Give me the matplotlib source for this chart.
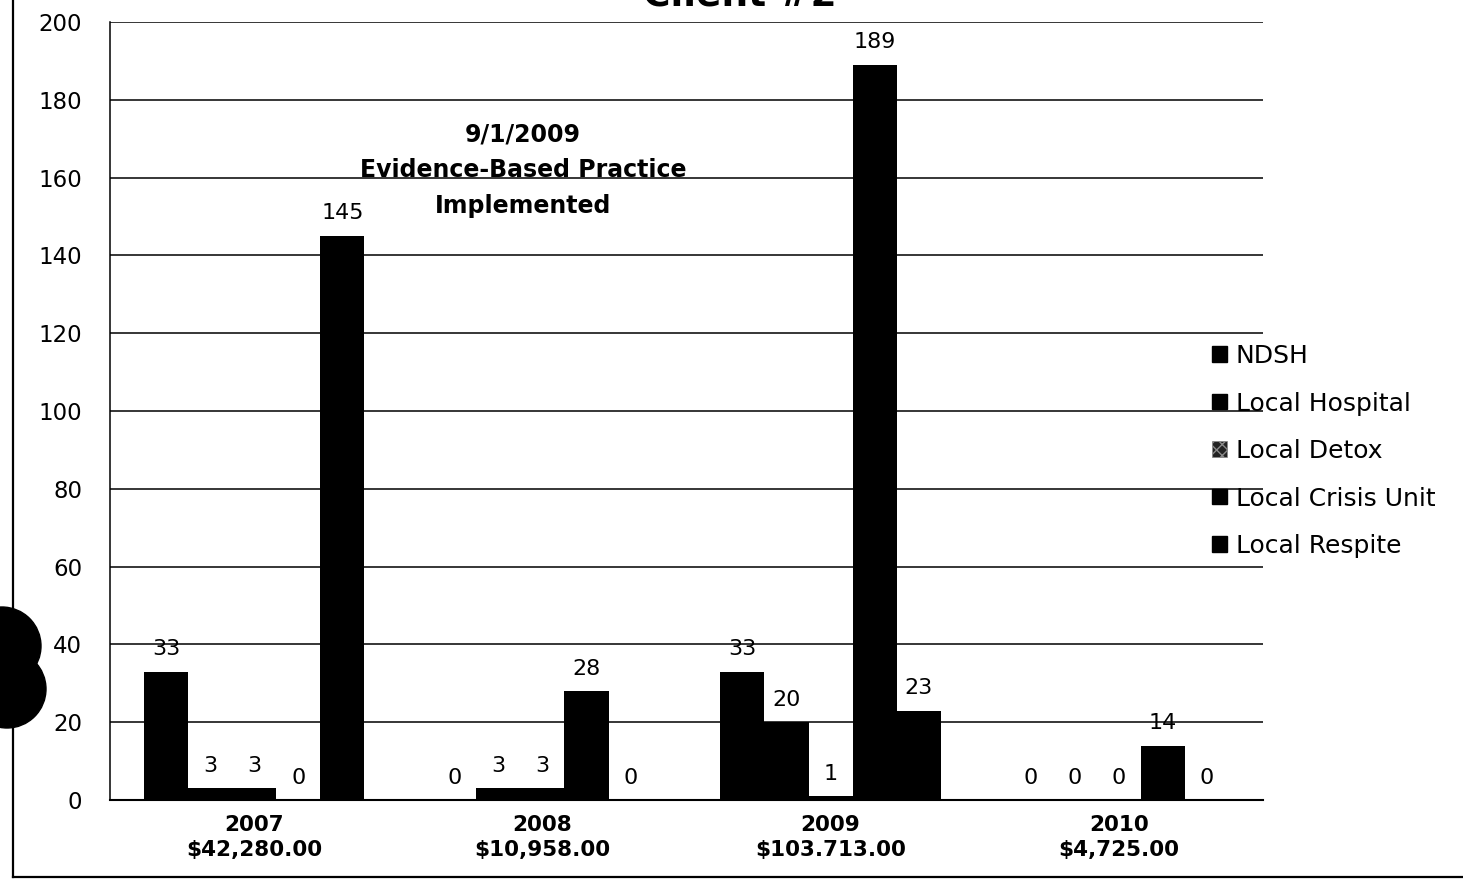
import matplotlib
matplotlib.use("Agg")
import matplotlib.pyplot as plt
import numpy as np
from matplotlib.patches import Patch, Ellipse
from matplotlib.lines import Line2D

# ---- data -------------------------------------------------------------
years = ["2007", "2008", "2009", "2010"]
costs = ["$42,280.00", "$10,958.00", "$103.713.00", "$4,725.00"]
series_names = ["NDSH", "Local Hospital", "Local Detox", "Local Crisis Unit", "Local Respite"]
ndsh = [33, 0, 33, 0]
local_hospital = [3, 3, 20, 0]
local_detox = [3, 3, 1, 0]
local_crisis_unit = [0, 28, 189, 14]
local_respite = [145, 0, 23, 0]
y_ticks = [0, 20, 40, 60, 80, 100, 120, 140, 160, 180, 200]

series = [ndsh, local_hospital, local_detox, local_crisis_unit, local_respite]

W, H = 1463, 882
fig = plt.figure(figsize=(W / 100, H / 100), dpi=100)
fig.patch.set_facecolor("white")

# plot area in pixel terms
left_px, right_px, top_px, bottom_px = 110, 1263, 22, 800
ax = fig.add_axes([left_px / W, 1 - bottom_px / H,
                   (right_px - left_px) / W, (bottom_px - top_px) / H])

x = np.arange(len(years))
bar_w = 0.153
for i, vals in enumerate(series):
    offs = (i - 2) * bar_w
    bars = ax.bar(x + offs, vals, width=bar_w, color="black",
                  edgecolor="black", linewidth=0, zorder=3)
    ax.bar_label(bars, labels=[str(v) for v in vals], padding=9,
                 fontsize=16, family="DejaVu Sans", color="black")

ax.set_xlim(-0.5, len(years) - 0.5)
ax.set_ylim(0, 200)
ax.set_yticks(y_ticks)
ax.set_yticklabels([str(t) for t in y_ticks], fontsize=16.5, family="DejaVu Sans")
ax.tick_params(axis="y", length=0, pad=20)
ax.set_xticks(x)
ax.set_xticklabels([f"{y}\n{c}" for y, c in zip(years, costs)],
                   fontsize=15.5, fontweight="bold", family="DejaVu Sans",
                   linespacing=1.3)
ax.tick_params(axis="x", length=0, pad=11)

ax.grid(axis="y", color="black", linewidth=1.1, zorder=0)
ax.set_axisbelow(True)
for s in ["top", "right"]:
    ax.spines[s].set_visible(False)
ax.spines["left"].set_linewidth(1.1)
ax.spines["bottom"].set_linewidth(1.5)

# event annotation
ax.text(0.358, (800 - 170) / 778,
        "9/1/2009\nEvidence-Based Practice\nImplemented",
        transform=ax.transAxes, ha="center", va="center",
        fontsize=17, fontweight="bold", family="DejaVu Sans",
        linespacing=1.62, zorder=4)

# legend
handles = []
for name in series_names:
    if name == "Local Detox":
        handles.append(Patch(facecolor="#222222", edgecolor="#888888",
                             hatch="xxx", linewidth=0.5))
    else:
        handles.append(Patch(facecolor="black", edgecolor="black"))
fig.legend(handles, series_names, loc="center left",
           bbox_to_anchor=(1212 / W, 1 - 451 / H), frameon=False,
           handlelength=0.58, handleheight=0.58,
           handletextpad=0.36, labelspacing=0.94, borderpad=0,
           borderaxespad=0, prop={"family": "DejaVu Sans", "size": 18})

# title, cut by the top edge
fig.text(740 / W, 1 - 5 / H, "Client #2", ha="center", va="baseline",
         fontsize=27, fontweight="bold", family="DejaVu Sans")

# chart-area frame (left and bottom edges)
fig.add_artist(Line2D([13 / W, 13 / W], [1.0, 1 - 877 / H],
                      transform=fig.transFigure, color="black", linewidth=1.6))
fig.add_artist(Line2D([13 / W, 1.0], [1 - 877 / H, 1 - 877 / H],
                      transform=fig.transFigure, color="black", linewidth=1.6))

# punched holes on the left margin
for cx, cy, r in [(2, 646, 39), (7, 689, 39)]:
    fig.add_artist(Ellipse((cx / W, 1 - cy / H), 2 * r / W, 2 * r / H,
                           transform=fig.transFigure, color="black", zorder=10))

fig.savefig("out.png", dpi=100)
